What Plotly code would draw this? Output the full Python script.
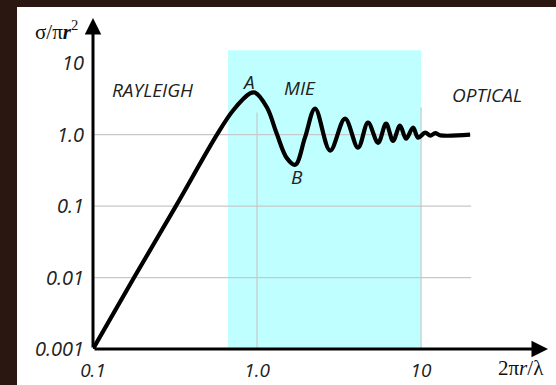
import plotly.graph_objects as go
import math

# ---- data ----
x_vals = [0.1, 0.178, 0.32, 0.57, 0.714, 0.906, 0.97, 1.15, 1.32, 1.52, 1.71, 1.96, 2.26,
          2.79, 3.44, 4.13, 4.75, 5.47, 6.12, 6.75, 7.44, 8.1, 8.94, 9.6, 10.6, 11.4, 12.2,
          13.1, 19.9]
y_vals = [0.001, 0.01, 0.1, 1.0, 2.18, 3.78, 3.9, 2.4, 1.03, 0.47, 0.38, 0.91, 2.32,
          0.6, 1.68, 0.66, 1.48, 0.77, 1.43, 0.82, 1.34, 0.88, 1.26, 0.91, 1.07, 0.97, 1.05,
          0.98, 1.0]

x_tickvals = [0.1, 1, 10]
x_ticktext = ["0.1", "1.0", "10"]
y_tickvals = [0.001, 0.01, 0.1, 1, 10]
y_ticktext = ["0.001", "0.01", "0.1", "1.0", "10"]

region_labels = ["RAYLEIGH", "MIE", "OPTICAL"]
region_x = [0.229, 1.83, 25.2]
region_y = [4.23, 4.5, 3.6]
point_labels = ["A", "B"]
point_x = [0.893, 1.75]
point_y = [5.5, 0.256]

mie_x = [0.665, 10]
mie_y_top = 15.2
grid_y = [0.01, 0.1, 1.0]
grid_x_end = 20.2
grid_x = [1, 10]
grid_x_top = [2.04, 2.4]

# ---- figure ----
L = math.log10
X0, X1 = -1.0, 1.774
Y0, Y1 = -3.0, 1.634

fig = go.Figure()
fig.add_trace(go.Scatter(x=x_vals, y=y_vals, mode="lines",
                         line=dict(color="black", width=4.2, shape="spline", smoothing=1.0),
                         hoverinfo="skip", showlegend=False))

shapes = []
# white panel
shapes.append(dict(type="rect", xref="paper", yref="paper", x0=-0.167, x1=1.1, y0=-0.2, y1=1.033,
                   fillcolor="white", line=dict(width=0), layer="below"))
# Mie region (shapes on log axes take data values)
shapes.append(dict(type="rect", xref="x", yref="y", x0=mie_x[0], x1=mie_x[1],
                   y0=10 ** Y0, y1=mie_y_top, fillcolor="#c0ffff", line=dict(width=0), layer="below"))
for gy in grid_y:
    shapes.append(dict(type="line", xref="x", yref="y", x0=10 ** X0, x1=grid_x_end, y0=gy, y1=gy,
                       line=dict(color="#c8c8c8", width=1.2), layer="below"))
for gx, gt in zip(grid_x, grid_x_top):
    shapes.append(dict(type="line", xref="x", yref="y", x0=gx, x1=gx, y0=10 ** Y0, y1=gt,
                       line=dict(color="#c8c8c8", width=1.2), layer="below"))

annotations = []
# axis arrows (annotations on log axes take log values)
annotations.append(dict(x=X1, y=Y0, ax=X0, ay=Y0, xref="x", yref="y", axref="x", ayref="y",
                        text="", showarrow=True, arrowhead=2, arrowsize=1.1, arrowwidth=3,
                        arrowcolor="black"))
annotations.append(dict(x=X0, y=Y1, ax=X0, ay=Y0, xref="x", yref="y", axref="x", ayref="y",
                        text="", showarrow=True, arrowhead=2, arrowsize=1.1, arrowwidth=3,
                        arrowcolor="black"))
lab_font = dict(family="Open Sans", size=19, color="#222", style="italic")
for t, xx, yy in zip(region_labels + point_labels, region_x + point_x, region_y + point_y):
    annotations.append(dict(x=L(xx), y=L(yy), xref="x", yref="y", text=t, showarrow=False,
                            xanchor="center", yanchor="middle", font=lab_font))
annotations.append(dict(x=-0.0286, y=0.961, xref="paper", yref="paper",
                        xanchor="right", yanchor="middle",
                        text="σ/π<b><i>r</i></b><sup>2</sup>", showarrow=False,
                        font=dict(family="Liberation Serif", size=21, color="#111")))
annotations.append(dict(x=0.996, y=-0.057, xref="paper", yref="paper",
                        xanchor="right", yanchor="middle",
                        text="2π<i>r</i>/λ", showarrow=False,
                        font=dict(family="Liberation Serif", size=21, color="#111")))

tick_font = dict(family="Open Sans", size=20, color="#222", style="italic")
xtick_font = dict(family="Open Sans", size=19, color="#222", style="italic")
fig.update_layout(
    width=556, height=385,
    margin=dict(l=93, r=8, t=18, b=36, pad=0, autoexpand=False),
    paper_bgcolor="#2b1712", plot_bgcolor="white",
    shapes=shapes, annotations=annotations, showlegend=False,
    xaxis=dict(type="log", range=[X0, X1], tickvals=x_tickvals, ticktext=x_ticktext,
               showgrid=False, zeroline=False, showline=False, ticks="", automargin=False,
               tickfont=xtick_font, ticklabelstandoff=8),
    yaxis=dict(type="log", range=[Y0, Y1], tickvals=y_tickvals, ticktext=y_ticktext,
               showgrid=False, zeroline=False, showline=False, ticks="", automargin=False,
               tickfont=tick_font, ticklabelstandoff=8),
)
fig.write_html("out.html", config={"displayModeBar": False},
               post_script="document.body.style.margin='0';document.body.style.background='#2b1712';")
